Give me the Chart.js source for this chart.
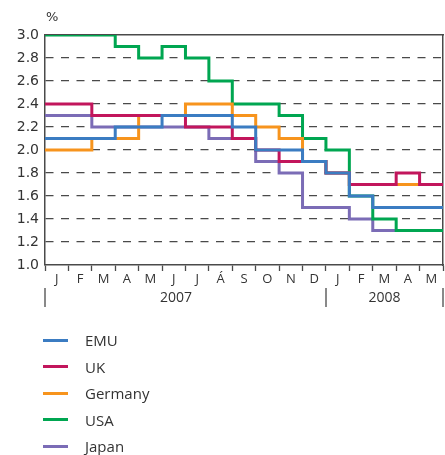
<!DOCTYPE html>
<html>
<head>
<meta charset="utf-8">
<script src="https://cdn.jsdelivr.net/npm/chart.js@4.4.1/dist/chart.umd.min.js"></script>
<style>
	html, body { margin: 0; padding: 0; background: #fff; }
	#wrap { position: relative; width: 445px; height: 455px; }
	#legend { position: absolute; left: 43px; top: 327px; margin: 0; padding: 0; list-style: none;
		font-family: "Open Sans", sans-serif; font-size: 15px; color: #333; }
	#legend li { height: 26.5px; display: flex; align-items: center; }
	#legend .swatch { display: inline-block; width: 25px; height: 3px; margin-right: 17px; }
</style>
</head>
<body>
<div id="wrap">
	<canvas id="chart" width="445" height="455"></canvas>
	<ul id="legend"></ul>
</div>
<script>
// month letters (Jan 2007 - May 2008)
const months = ['J', 'F', 'M', 'A', 'M', 'J', 'J', 'Á', 'S', 'O', 'N', 'D', 'J', 'F', 'M', 'A', 'M'];
const yTicks = [1.0, 1.2, 1.4, 1.6, 1.8, 2.0, 2.2, 2.4, 2.6, 2.8, 3.0];
const years = ['2007', '2008'];
const yearBreaks = [0, 12, 17];
const yearLabelAt = [5.6, 14.5];

// monthly values, %
const emu     = [2.1, 2.1, 2.1, 2.2, 2.2, 2.3, 2.3, 2.3, 2.2, 2.0, 2.0, 1.9, 1.8, 1.6, 1.5, 1.5, 1.5];
const uk      = [2.4, 2.4, 2.3, 2.3, 2.3, 2.3, 2.2, 2.2, 2.1, 2.0, 1.9, 1.9, 1.8, 1.7, 1.7, 1.8, 1.7];
const germany = [2.0, 2.0, 2.1, 2.1, 2.3, 2.3, 2.4, 2.4, 2.3, 2.2, 2.1, 1.9, 1.8, 1.7, 1.7, 1.7, 1.7];
const usa     = [3.0, 3.0, 3.0, 2.9, 2.8, 2.9, 2.8, 2.6, 2.4, 2.4, 2.3, 2.1, 2.0, 1.6, 1.4, 1.3, 1.3];
const japan   = [2.3, 2.3, 2.2, 2.2, 2.2, 2.2, 2.2, 2.1, 2.1, 1.9, 1.8, 1.5, 1.5, 1.4, 1.3, 1.3, 1.3];

const seriesNames = ['EMU', 'UK', 'Germany', 'USA', 'Japan'];
const seriesValues = [emu, uk, germany, usa, japan];
const seriesColors = ['#3b7cc2', '#c2165c', '#f7941d', '#00a651', '#7b6cb6'];

// each month holds its value until the next month starts
function toSteps(values) {
	const pts = values.map((v, i) => ({ x: i, y: v }));
	pts.push({ x: values.length, y: values[values.length - 1] });
	return pts;
}

const gridGray = '#4a4a4a';

// year row under the month letters, and the % unit
const yearRow = {
	id: 'yearRow',
	afterDraw(chart) {
		const ctx = chart.ctx;
		const xs = chart.scales.x;
		const bottom = chart.chartArea.bottom;
		ctx.save();
		ctx.strokeStyle = gridGray;
		ctx.lineWidth = 1.3;
		yearBreaks.forEach(v => {
			const px = Math.round(xs.getPixelForValue(v));
			ctx.beginPath();
			ctx.moveTo(px, bottom + 23);
			ctx.lineTo(px, bottom + 42);
			ctx.stroke();
		});
		ctx.fillStyle = '#333';
		ctx.font = '14px "Open Sans"';
		ctx.textAlign = 'center';
		ctx.textBaseline = 'middle';
		years.forEach((y, i) => ctx.fillText(y, xs.getPixelForValue(yearLabelAt[i]), bottom + 33));
		ctx.textAlign = 'left';
		ctx.font = '13px "DejaVu Sans"';
		ctx.fillText('%', chart.chartArea.left + 1, 18);
		ctx.restore();
	}
};

const ctx = document.getElementById('chart').getContext('2d');
const chart = new Chart(ctx, {
	type: 'line',
	data: {
		datasets: seriesNames.map((name, i) => ({
			label: name,
			data: toSteps(seriesValues[i]),
			borderColor: seriesColors[i],
			backgroundColor: seriesColors[i],
			borderWidth: 3,
			stepped: 'before',
			pointRadius: 0,
			fill: false,
			borderJoinStyle: 'miter',
			borderCapStyle: 'butt'
		}))
	},
	options: {
		responsive: false,
		animation: false,
		layout: { padding: { top: 35, left: 0, right: 0, bottom: 0 } },
		plugins: {
			legend: { display: false },
			tooltip: { enabled: false }
		},
		scales: {
			x: {
				type: 'linear',
				position: 'bottom',
				min: 0,
				max: months.length,
				afterBuildTicks: s => {
					const t = [];
					for (let i = 0; i <= months.length * 2; i++) t.push({ value: i / 2 });
					s.ticks = t;
				},
				afterFit: s => { s.height = 190; },
				grid: {
					drawOnChartArea: false,
					drawTicks: true,
					tickLength: 6,
					tickWidth: 1.3,
					tickColor: c => (c.tick && Number.isInteger(c.tick.value)) ? gridGray : 'rgba(0,0,0,0)'
				},
				border: { display: true, color: gridGray, width: 1.5 },
				ticks: {
					autoSkip: false,
					maxRotation: 0,
					padding: 0,
					color: '#333',
					font: { family: 'Open Sans', size: 13 },
					callback: v => Number.isInteger(v) ? '' : months[Math.floor(v)]
				}
			},
			xTop: {
				type: 'linear',
				position: 'top',
				min: 0,
				max: months.length,
				afterFit: s => { s.height = 0; },
				grid: { display: false, drawTicks: false },
				ticks: { display: false },
				border: { display: true, color: gridGray, width: 1.5 }
			},
			y: {
				min: 1.0,
				max: 3.0,
				afterBuildTicks: s => { s.ticks = yTicks.map(v => ({ value: v })); },
				afterFit: s => { s.width = 45; },
				grid: {
					drawTicks: false,
					lineWidth: 1.3,
					color: c => (c.tick && (c.tick.value === 3.0 || c.tick.value === 1.0)) ? 'rgba(0,0,0,0)' : gridGray
				},
				border: { display: true, color: gridGray, width: 1.5, dash: [8, 7.5] },
				ticks: {
					padding: 6,
					color: '#333',
					font: { family: 'DejaVu Sans', size: 14 },
					callback: v => Number(v).toFixed(1)
				}
			},
			yRight: {
				position: 'right',
				min: 1.0,
				max: 3.0,
				afterFit: s => { s.width = 2; },
				grid: { display: false, drawTicks: false },
				ticks: { display: false },
				border: { display: true, color: gridGray, width: 1.5 }
			}
		}
	},
	plugins: [yearRow]
});

// legend, one entry per line
const legendEl = document.getElementById('legend');
seriesNames.forEach((name, i) => {
	const li = document.createElement('li');
	const sw = document.createElement('span');
	sw.className = 'swatch';
	sw.style.background = seriesColors[i];
	li.appendChild(sw);
	li.appendChild(document.createTextNode(name));
	legendEl.appendChild(li);
});
</script>
</body>
</html>
